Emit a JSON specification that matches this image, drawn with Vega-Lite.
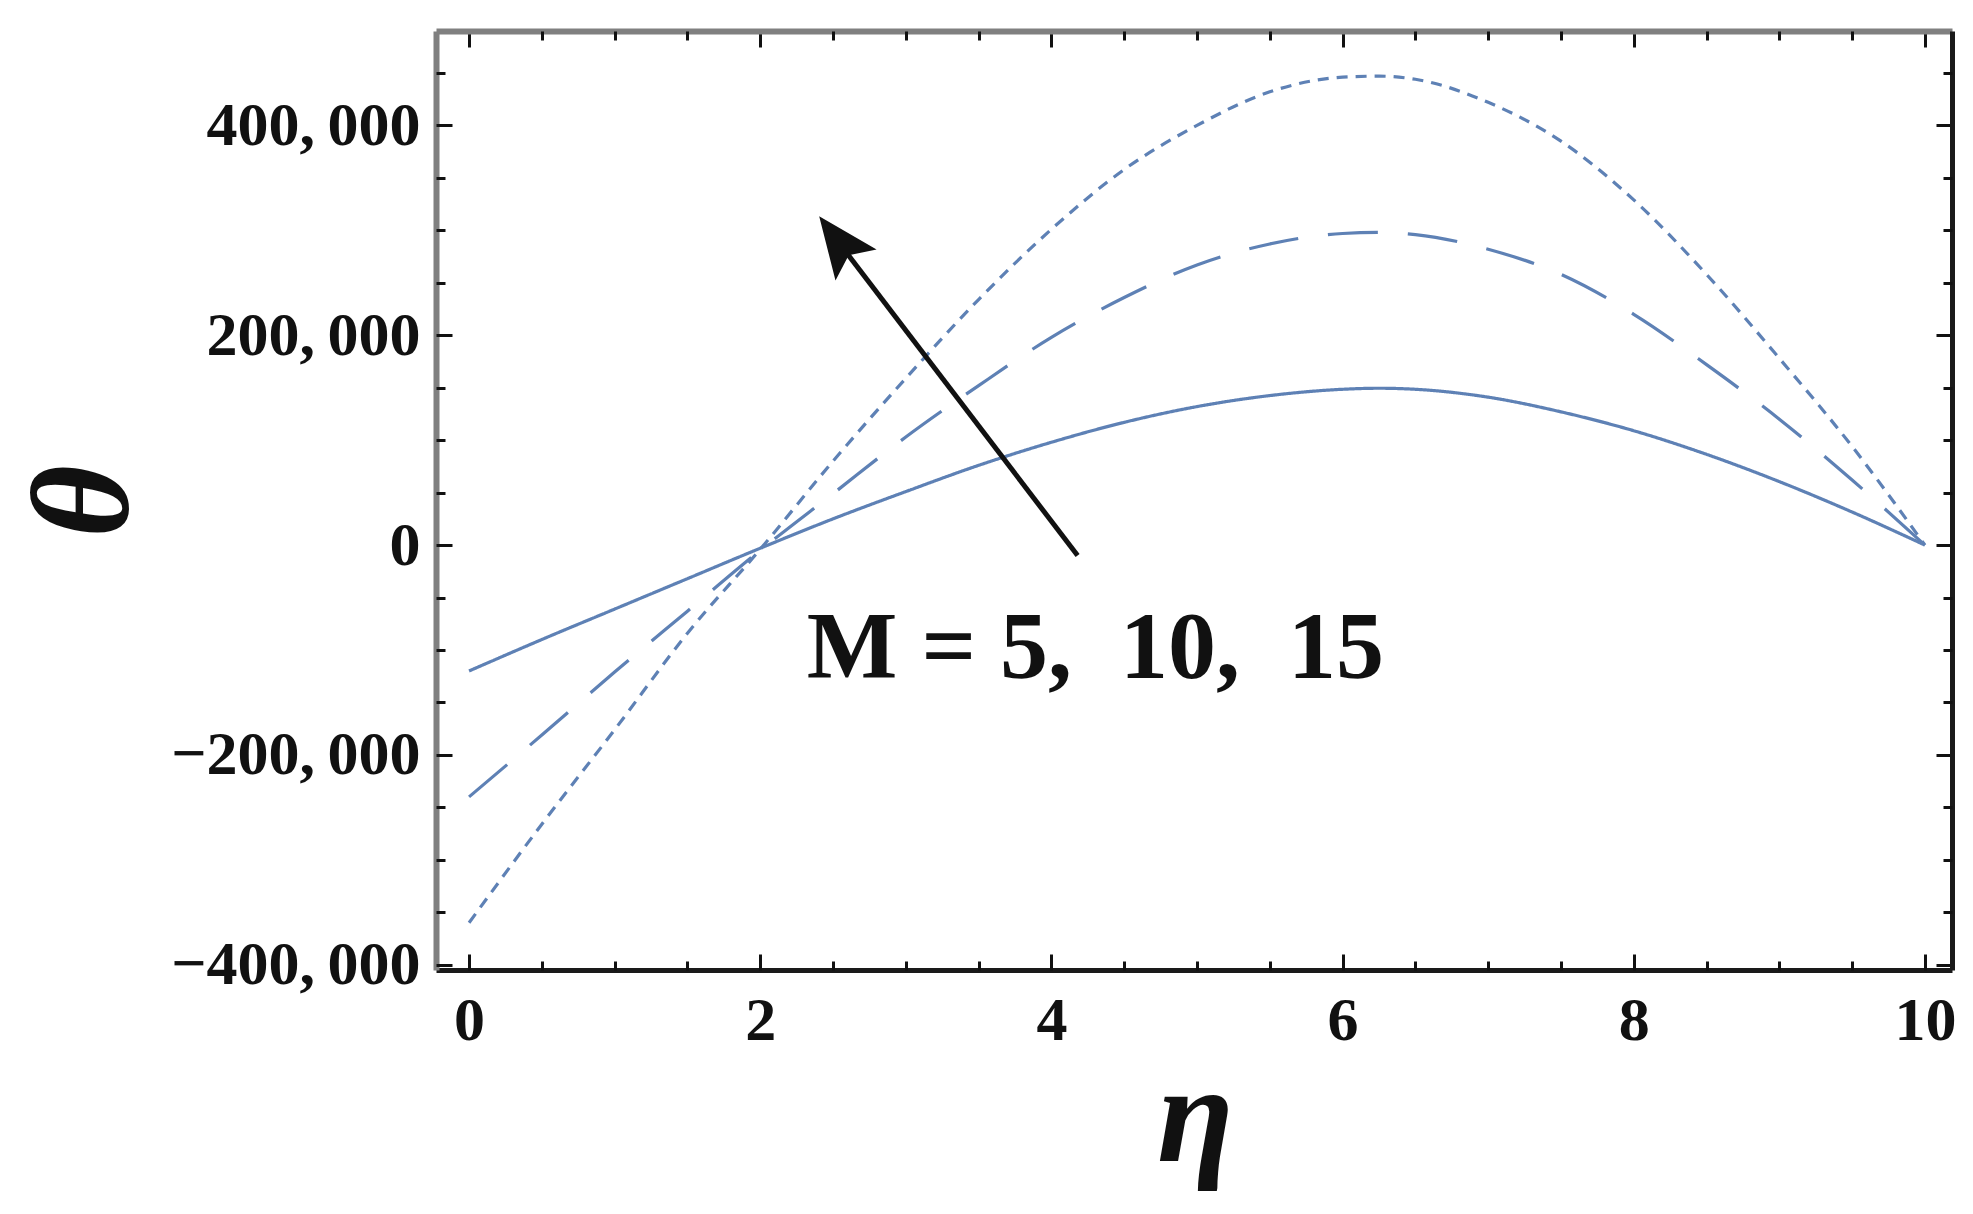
{
  "$schema": "https://vega.github.io/schema/vega-lite/v6.json",
  "width": 1516,
  "height": 939,
  "autosize": {"type": "none"},
  "padding": {"left": 436, "top": 31, "right": 21, "bottom": 244},
  "background": "white",
  "config": {
    "view": {"stroke": null},
    "axis": {"grid": false, "labelFont": "Liberation Serif", "labelFontWeight": "bold", "labelColor": "#111111", "titleFont": "Liberation Serif", "titleColor": "#111111", "labelOverlap": false, "labelFlush": false, "labelLimit": 0}
  },
  "data": {
    "values": [
      {"eta": 0, "theta": -120000, "M": 5}, {"eta": 0.5, "theta": -90000, "M": 5}, {"eta": 1, "theta": -61000, "M": 5}, {"eta": 1.5, "theta": -32000, "M": 5}, {"eta": 2, "theta": -3000, "M": 5}, {"eta": 2.5, "theta": 25000, "M": 5}, {"eta": 3, "theta": 51000, "M": 5}, {"eta": 3.5, "theta": 76000, "M": 5}, {"eta": 4, "theta": 98000, "M": 5}, {"eta": 4.5, "theta": 117000, "M": 5}, {"eta": 5, "theta": 132000, "M": 5}, {"eta": 5.5, "theta": 142500, "M": 5}, {"eta": 6, "theta": 148500, "M": 5}, {"eta": 6.25, "theta": 149500, "M": 5}, {"eta": 6.5, "theta": 148500, "M": 5}, {"eta": 7, "theta": 141000, "M": 5}, {"eta": 7.5, "theta": 127000, "M": 5}, {"eta": 8, "theta": 109000, "M": 5}, {"eta": 8.5, "theta": 86500, "M": 5}, {"eta": 9, "theta": 60500, "M": 5}, {"eta": 9.5, "theta": 31500, "M": 5}, {"eta": 10, "theta": 0, "M": 5},
      {"eta": 0, "theta": -240000, "M": 10}, {"eta": 0.5, "theta": -181000, "M": 10}, {"eta": 1, "theta": -121000, "M": 10}, {"eta": 1.5, "theta": -63000, "M": 10}, {"eta": 2, "theta": -5000, "M": 10}, {"eta": 2.5, "theta": 49000, "M": 10}, {"eta": 3, "theta": 103000, "M": 10}, {"eta": 3.5, "theta": 152000, "M": 10}, {"eta": 4, "theta": 198000, "M": 10}, {"eta": 4.5, "theta": 236000, "M": 10}, {"eta": 5, "theta": 267000, "M": 10}, {"eta": 5.5, "theta": 287000, "M": 10}, {"eta": 6, "theta": 297000, "M": 10}, {"eta": 6.25, "theta": 298000, "M": 10}, {"eta": 6.5, "theta": 296000, "M": 10}, {"eta": 7, "theta": 282000, "M": 10}, {"eta": 7.5, "theta": 258000, "M": 10}, {"eta": 8, "theta": 220000, "M": 10}, {"eta": 8.5, "theta": 172000, "M": 10}, {"eta": 9, "theta": 120000, "M": 10}, {"eta": 9.5, "theta": 62000, "M": 10}, {"eta": 10, "theta": 0, "M": 10},
      {"eta": 0, "theta": -360000, "M": 15}, {"eta": 0.5, "theta": -266000, "M": 15}, {"eta": 1, "theta": -176000, "M": 15}, {"eta": 1.5, "theta": -84000, "M": 15}, {"eta": 2, "theta": -4000, "M": 15}, {"eta": 2.5, "theta": 80000, "M": 15}, {"eta": 3, "theta": 159000, "M": 15}, {"eta": 3.5, "theta": 234000, "M": 15}, {"eta": 4, "theta": 301000, "M": 15}, {"eta": 4.5, "theta": 358000, "M": 15}, {"eta": 5, "theta": 400000, "M": 15}, {"eta": 5.5, "theta": 432000, "M": 15}, {"eta": 6, "theta": 446000, "M": 15}, {"eta": 6.25, "theta": 447000, "M": 15}, {"eta": 6.5, "theta": 444000, "M": 15}, {"eta": 7, "theta": 422000, "M": 15}, {"eta": 7.5, "theta": 385000, "M": 15}, {"eta": 8, "theta": 329000, "M": 15}, {"eta": 8.5, "theta": 258000, "M": 15}, {"eta": 9, "theta": 178000, "M": 15}, {"eta": 9.5, "theta": 94000, "M": 15}, {"eta": 10, "theta": 0, "M": 15}
    ]
  },
  "layer": [
    {
      "mark": {"type": "line", "strokeWidth": 3.2, "color": "#5E81B5", "interpolate": "monotone"},
      "encoding": {
        "x": {"field": "eta", "type": "quantitative", "scale": {"domain": [-0.227, 10.186], "nice": false, "zero": false},
          "axis": {"orient": "bottom", "values": [0, 2, 4, 6, 8, 10], "ticks": false, "tickSize": 0, "labelPadding": 20, "labelFontSize": 62, "domainColor": "#1a1a1a", "domainWidth": 5, "title": "η", "titleFontSize": 140, "titleFontStyle": "italic", "titleFontWeight": "bold", "titleX": 759, "titleY": 190, "titleBaseline": "alphabetic", "titleAlign": "center"}},
        "y": {"field": "theta", "type": "quantitative", "scale": {"domain": [-405000, 490000], "nice": false, "zero": false},
          "axis": {"orient": "left", "values": [-400000, -200000, 0, 200000, 400000], "format": ",.0f", "labelExpr": "replace(datum.label, ',', ',\u2009')", "ticks": false, "tickSize": 0, "labelPadding": 16, "labelFontSize": 62, "domainColor": "#808080", "domainWidth": 6, "title": "θ", "titleFontSize": 140, "titleFontStyle": "italic", "titleFontWeight": "bold", "titleAngle": -90, "titleX": -351, "titleY": 470, "titleAlign": "center", "titleBaseline": "middle"}},
        "strokeDash": {"field": "M", "type": "nominal", "scale": {"domain": [5, 10, 15], "range": [[1, 0], [50, 30], [11, 8]]}, "legend": null}
      }
    },
    {
      "mark": {"type": "point", "opacity": 0},
      "encoding": {
        "x": {"field": "eta", "type": "quantitative", "axis": {"orient": "bottom", "values": [0, 2, 4, 6, 8, 10], "labels": false, "domain": false, "tickSize": -16, "tickWidth": 3, "tickColor": "#111111", "title": null}},
        "y": {"field": "theta", "type": "quantitative", "axis": {"orient": "left", "values": [-400000, -200000, 0, 200000, 400000], "labels": false, "domain": false, "tickSize": -16, "tickWidth": 3, "tickColor": "#111111", "title": null}}
      }
    },
    {
      "mark": {"type": "point", "opacity": 0},
      "encoding": {
        "x": {"field": "eta", "type": "quantitative", "axis": {"orient": "bottom", "values": [0.5, 1, 1.5, 2.5, 3, 3.5, 4.5, 5, 5.5, 6.5, 7, 7.5, 8.5, 9, 9.5], "labels": false, "domain": false, "tickSize": -9, "tickWidth": 3, "tickColor": "#111111", "title": null}},
        "y": {"field": "theta", "type": "quantitative", "axis": {"orient": "left", "values": [-350000, -300000, -250000, -150000, -100000, -50000, 50000, 100000, 150000, 250000, 300000, 350000, 450000], "labels": false, "domain": false, "tickSize": -9, "tickWidth": 3, "tickColor": "#111111", "title": null}}
      }
    },
    {
      "mark": {"type": "point", "opacity": 0},
      "encoding": {
        "x": {"field": "eta", "type": "quantitative", "axis": {"orient": "top", "values": [0, 2, 4, 6, 8, 10], "labels": false, "domain": true, "domainColor": "#808080", "domainWidth": 6, "tickSize": -16, "tickWidth": 3, "tickColor": "#111111", "title": null}},
        "y": {"field": "theta", "type": "quantitative", "axis": {"orient": "right", "values": [-400000, -200000, 0, 200000, 400000], "labels": false, "domain": true, "domainColor": "#1a1a1a", "domainWidth": 5, "tickSize": -16, "tickWidth": 3, "tickColor": "#111111", "title": null}}
      }
    },
    {
      "mark": {"type": "point", "opacity": 0},
      "encoding": {
        "x": {"field": "eta", "type": "quantitative", "axis": {"orient": "top", "values": [0.5, 1, 1.5, 2.5, 3, 3.5, 4.5, 5, 5.5, 6.5, 7, 7.5, 8.5, 9, 9.5], "labels": false, "domain": false, "tickSize": -9, "tickWidth": 3, "tickColor": "#111111", "title": null}},
        "y": {"field": "theta", "type": "quantitative", "axis": {"orient": "right", "values": [-350000, -300000, -250000, -150000, -100000, -50000, 50000, 100000, 150000, 250000, 300000, 350000, 450000], "labels": false, "domain": false, "tickSize": -9, "tickWidth": 3, "tickColor": "#111111", "title": null}}
      }
    },
    {
      "data": {"values": [{}]},
      "mark": {"type": "text", "font": "Liberation Serif", "fontWeight": "bold", "fontSize": 96, "align": "left", "baseline": "alphabetic", "color": "#111111"},
      "encoding": {
        "x": {"datum": 2.32, "type": "quantitative", "axis": null},
        "y": {"datum": -127000, "type": "quantitative", "axis": null},
        "text": {"value": "M = 5,\u00a0 10,\u00a0 15"}
      }
    },
    {
      "data": {"values": [{}]},
      "mark": {"type": "rule", "strokeWidth": 5, "color": "#111111"},
      "encoding": {
        "x": {"datum": 4.18, "type": "quantitative", "axis": null},
        "y": {"datum": -10000, "type": "quantitative", "axis": null},
        "x2": {"datum": 2.58},
        "y2": {"datum": 281000}
      }
    },
    {
      "data": {"values": [{}]},
      "mark": {"type": "point", "shape": "M0,0L0.42,1L0,0.8L-0.42,1Z", "filled": true, "color": "#111111", "opacity": 1, "size": 15000, "angle": -37, "strokeWidth": 0},
      "encoding": {
        "x": {"datum": 2.405, "type": "quantitative", "axis": null},
        "y": {"datum": 313500, "type": "quantitative", "axis": null}
      }
    }
  ],
  "resolve": {"axis": {"x": "independent", "y": "independent"}}
}
